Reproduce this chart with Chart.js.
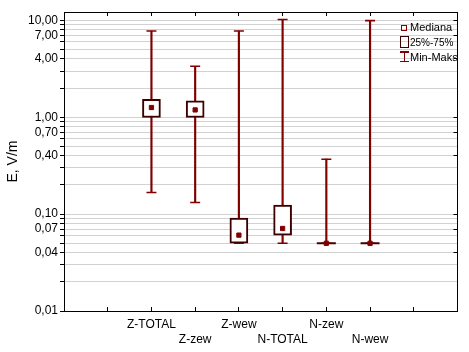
<!DOCTYPE html>
<html><head><meta charset="utf-8">
<script src="https://cdn.jsdelivr.net/npm/chart.js@4/dist/chart.umd.min.js"></script>
<style>
html,body{margin:0;padding:0;background:#fff;}
#wrap{position:relative;width:469px;height:352px;overflow:hidden;}
canvas{display:block;}
.lt{position:absolute;font:11px "Liberation Sans",Arial,sans-serif;color:#000;line-height:13px;white-space:nowrap;}
.sym{position:absolute;box-sizing:border-box;}
</style></head><body>
<div id="wrap">
<canvas id="c" width="469" height="352"></canvas>
<div class="sym" style="left:401px;top:25px;width:6px;height:6px;border:1.3px solid #800000;"></div>
<div class="lt" style="left:410px;top:21px;">Mediana</div>
<div class="sym" style="left:400px;top:36px;width:9px;height:12px;border:1.6px solid #3c0000;"></div>
<div class="lt" style="left:410px;top:36px;font-size:10px;">25%-75%</div>
<div class="sym" style="left:403.5px;top:51px;width:1.6px;height:11px;background:#800000;"></div>
<div class="sym" style="left:400px;top:51px;width:9px;height:1.6px;background:#800000;"></div>
<div class="sym" style="left:400px;top:60.5px;width:9px;height:1.6px;background:#800000;"></div>
<div class="lt" style="left:410px;top:51px;">Min-Maks</div>
</div>
<script>
// ---- data ----
const categories = ['Z-TOTAL', 'Z-zew', 'Z-wew', 'N-TOTAL', 'N-zew', 'N-wew'];
const minVals    = [0.167, 0.132, 0.05, 0.05, 0.05, 0.05];
const q1Vals     = [0.995, 0.995, 0.05, 0.0607, 0.05, 0.05];
const medianVals = [1.26, 1.19, 0.0607, 0.0711, 0.05, 0.05];
const q3Vals     = [1.53, 1.48, 0.091, 0.124, 0.05, 0.05];
const maxVals    = [7.76, 3.36, 7.76, 10.2, 0.369, 9.93];

const yGridValues  = [0.01,0.02,0.03,0.04,0.05,0.06,0.07,0.08,0.09,
                      0.1,0.2,0.3,0.4,0.5,0.6,0.7,0.8,0.9,
                      1,2,3,4,5,6,7,8,9,10];
const yLabelValues = [0.01, 0.04, 0.07, 0.1, 0.4, 0.7, 1, 4, 7, 10];
const yLabelTexts  = ['0,01','0,04','0,07','0,10','0,40','0,70','1,00','4,00','7,00','10,00'];
const yMin = 0.01, yMax = 12.2;
const xFirst = 2, xMin = 0, xMax = 9;

// ---- build ----
const FONT = '"Liberation Sans", Arial, sans-serif';
const xs = categories.map((c, i) => i + xFirst);
function yLabel(v) {
  for (let i = 0; i < yLabelValues.length; i++) {
    if (Math.abs(Math.log10(v) - Math.log10(yLabelValues[i])) < 1e-6) return yLabelTexts[i];
  }
  return '';
}
function xLabel(v) {
  const i = Math.round(v) - xFirst;
  if (i < 0 || i >= categories.length) return '';
  return (i % 2 === 0) ? categories[i] : ['', categories[i]];
}

const whiskers = xs.map((x, i) => ({x: x, y: [minVals[i], maxVals[i]]}));
const boxes = xs.map((x, i) => ({x: x, y: [q1Vals[i], q3Vals[i]]}));
const caps = [];
xs.forEach((x, i) => { caps.push({x: x, y: maxVals[i]}); caps.push({x: x, y: minVals[i]}); });
const flatBoxes = [];
xs.forEach((x, i) => { if (q1Vals[i] === q3Vals[i]) flatBoxes.push({x: x, y: q1Vals[i]}); });
const medians = xs.map((x, i) => ({x: x, y: medianVals[i]}));

new Chart(document.getElementById('c'), {
  type: 'bar',
  data: {
    datasets: [
      {type: 'scatter', data: medians, order: 0, pointStyle: 'rect', pointRadius: 3,
       backgroundColor: '#800000', borderColor: '#800000', borderWidth: 1},
      {type: 'scatter', data: flatBoxes, order: 1, pointStyle: 'line', pointRadius: 9.5,
       borderColor: '#4a0000', borderWidth: 2},
      {type: 'bar', data: boxes, order: 2, grouped: false, barThickness: 18,
       backgroundColor: '#ffffff', borderColor: '#3c0000', borderWidth: 2, borderSkipped: false},
      {type: 'scatter', data: caps, order: 3, pointStyle: 'line', pointRadius: 5,
       borderColor: '#800000', borderWidth: 1.6},
      {type: 'bar', data: whiskers, order: 4, grouped: false, barThickness: 1.5,
       backgroundColor: '#800000', borderWidth: 0}
    ]
  },
  options: {
    responsive: false,
    animation: false,
    devicePixelRatio: 1,
    layout: {padding: 0},
    plugins: {legend: {display: false}, tooltip: {enabled: false}},
    scales: {
      x: {
        type: 'linear', min: xMin, max: xMax, position: 'bottom', offset: false,
        afterFit: s => { s.height = 41; s.paddingLeft = 0; s.paddingRight = 0; },
        ticks: {stepSize: 1, autoSkip: false, maxRotation: 0, padding: 10, color: '#000',
                font: {family: FONT, size: 12, lineHeight: 1.25}, callback: v => xLabel(v)},
        grid: {drawOnChartArea: false, drawTicks: true, tickLength: -4, tickColor: '#000', offset: false},
        border: {color: '#000', width: 1}
      },
      x2: {
        type: 'linear', min: xMin, max: xMax, position: 'top', offset: false,
        afterFit: s => { s.height = 12; s.paddingLeft = 0; s.paddingRight = 0; },
        ticks: {stepSize: 1, display: false},
        grid: {drawOnChartArea: false, drawTicks: true, tickLength: -4, tickColor: '#000', offset: false},
        border: {color: '#000', width: 1}
      },
      y: {
        type: 'logarithmic', min: yMin, max: yMax, position: 'left',
        afterBuildTicks: s => { s.ticks = yGridValues.map(v => ({value: v})); },
        afterFit: s => { s.width = 64; },
        ticks: {autoSkip: false, padding: 2, color: '#000',
                font: {family: FONT, size: 12}, callback: v => yLabel(v)},
        grid: {color: '#d2d2d2', lineWidth: 1, tickColor: '#000', tickLength: 4},
        border: {color: '#000', width: 1},
        title: {display: true, text: 'E, V/m', color: '#000',
                font: {family: FONT, size: 14}, padding: {top: 5, bottom: 0}}
      },
      y2: {
        type: 'logarithmic', min: yMin, max: yMax, position: 'right',
        afterBuildTicks: s => { s.ticks = yLabelValues.map(v => ({value: v})); },
        afterFit: s => { s.width = 6; },
        ticks: {display: false},
        grid: {drawOnChartArea: false, drawTicks: true, tickLength: -4, tickColor: '#000'},
        border: {color: '#000', width: 1}
      }
    }
  }
});
</script>
</body></html>
